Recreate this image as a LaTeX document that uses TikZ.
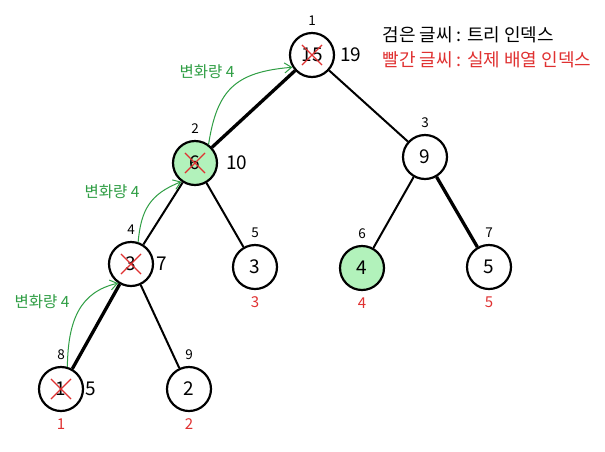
\documentclass[tikz,border=0pt]{standalone}
\usepackage{fontspec}
\setmainfont{Noto Sans CJK KR}
\usepackage{tikz}
\tikzset{>=latex}
\usetikzlibrary{arrows.meta}
\usetikzlibrary{shapes.misc}
\definecolor{change}{RGB}{47,158,68}
\definecolor{changed}{RGB}{178,242,187}
\definecolor{arrayidx}{RGB}{224,49,49}

\begin{document}
\begin{tikzpicture}[x=1pt, y=-1pt,
        treenode/.style={circle, draw, line width=2.2pt, minimum size=44pt, inner sep=0pt,
            font=\fontsize{19}{21}\selectfont},
        treeidx/.style={font=\fontsize{13.5}{15}\selectfont},
        sumval/.style={anchor=west, inner sep=0pt, font=\fontsize{19}{21}\selectfont},
        arridx/.style={text=arrayidx, font=\fontsize{15}{17}\selectfont},
        crossout/.style={cross out, draw=arrayidx, line width=1.1pt, minimum size=19pt},
        edge/.style={line width=2pt},
        pathedge/.style={line width=3.3pt},
        delta/.style={draw=change, line width=1pt, -{Straight Barb[length=7pt, width=10pt]}},
        deltalabel/.style={text=change, font=\fontsize{15.5}{17}\selectfont},
        every label/.style={inner sep=1pt},
        label distance=5pt]
            \fill[white] (0,0) rectangle (605,451);
            \useasboundingbox (0,0) rectangle (605,451);
            % tree
            \node[treenode, label={[treeidx]90:1}] (n1) at (312,55) {15};
            \node[treenode, fill=changed, label={[treeidx]90:2}] (n2) at (195,163) {6};
            \node[treenode, label={[treeidx]90:3}] (n3) at (425,157) {9};
            \node[treenode, label={[treeidx]90:4}] (n4) at (131,264) {3};
            \node[treenode, label={[treeidx]90:5}, label={[arridx]-90:3}] (n5) at (255,267) {3};
            \node[treenode, fill=changed, label={[treeidx]90:6}, label={[arridx]-90:4}] (n6) at (362,268) {4};
            \node[treenode, label={[treeidx]90:7}, label={[arridx]-90:5}] (n7) at (489,267) {5};
            \node[treenode, label={[treeidx]90:8}, label={[arridx]-90:1}] (n8) at (61,389) {1};
            \node[treenode, label={[treeidx]90:9}, label={[arridx]-90:2}] (n9) at (189,389) {2};
            \draw[pathedge] (n1) -- (n2);
            \draw[edge] (n1) -- (n3);
            \draw[edge] (n2) -- (n4);
            \draw[edge] (n2) -- (n5);
            \draw[edge] (n3) -- (n6);
            \draw[pathedge] (n3) -- (n7);
            \draw[pathedge] (n4) -- (n8);
            \draw[edge] (n4) -- (n9);
            % crossed out values and new sums
            \node[crossout] (x1) at (n1.center) {};
            \node[crossout] (x2) at (n2.center) {};
            \node[crossout] (x4) at (n4.center) {};
            \node[crossout] (x8) at (n8.center) {};
            \node[sumval] (s1) at (340,55) {19};
            \node[sumval] (s2) at (226,163) {10};
            \node[sumval] (s4) at (156,264) {7};
            \node[sumval] (s8) at (85,389) {5};
            % updates
            \draw[delta] (n8.74) .. controls (68,320) and (80,292) .. (n4.236);
            \draw[delta] (n4.72) .. controls (141,210) and (150,194) .. (n2.234);
            \draw[delta] (n2.54) .. controls (217,90) and (235,72) .. (n1.212);
            \node[deltalabel] (d8) at (42,302) {변화량 4};
            \node[deltalabel] (d4) at (112,192) {변화량 4};
            \node[deltalabel] (d2) at (207,72) {변화량 4};
            % legend
            \node[anchor=west, font=\fontsize{18}{20}\selectfont] (key1) at (379,35) {검은 글씨 : 트리 인덱스};
            \node[anchor=west, text=arrayidx, font=\fontsize{18}{20}\selectfont] (key2) at (379,60) {빨간 글씨 : 실제 배열 인덱스};
        \end{tikzpicture}
\end{document}
